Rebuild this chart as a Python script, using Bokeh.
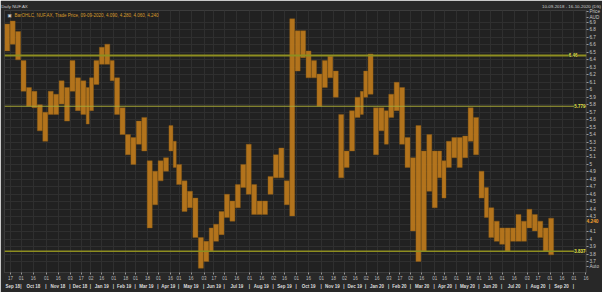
import numpy as np
import pandas as pd
from bokeh.plotting import figure
from bokeh.models import (Range1d, LinearAxis, FixedTicker, CustomJSTickFormatter,
                          Span, Label, ColumnDataSource)
from bokeh.embed import file_html
from bokeh.resources import INLINE

# ---------------- data ----------------
start_date = "2018-09-10"
end_date = "2020-10-16"
asx_holidays = ["2018-12-25", "2018-12-26", "2019-01-01", "2019-01-28", "2019-04-19",
                "2019-04-22", "2019-04-25", "2019-06-10", "2019-12-25", "2019-12-26",
                "2020-01-01", "2020-01-27", "2020-04-10", "2020-04-13", "2020-06-08"]

# weekly high / low of NUF.AX trade price, weeks from 10-09-2018
week_high = [6.88, 6.92, 6.78, 6.39, 6.03, 5.98, 5.80, 5.70, 5.98, 5.94,
             6.12, 6.03, 6.39, 6.16, 6.12, 6.03, 6.16, 6.39, 6.57, 6.61,
             6.39, 6.16, 5.76, 5.40, 5.36, 5.58, 5.63, 5.05, 4.91, 5.05,
             5.09, 5.52, 5.31, 5.00, 4.78, 4.64, 4.55, 4.02, 3.97, 4.15,
             4.20, 4.37, 4.60, 4.51, 4.73, 5.00, 5.27, 4.73, 4.51, 4.51,
             4.84, 5.13, 5.22, 4.78, 6.95, 6.79, 6.79, 6.52, 6.39, 6.21,
             6.39, 6.45, 6.25, 5.67, 5.18, 5.72, 5.90, 5.98, 6.25, 6.48,
             5.76, 5.76, 5.72, 5.94, 6.10, 6.03, 5.36, 5.09, 5.52, 5.18,
             5.40, 5.18, 5.18, 5.05, 5.31, 5.36, 5.36, 5.38, 5.76, 5.63,
             4.91, 4.69, 4.42, 4.24, 4.15, 4.15, 4.15, 4.33, 4.24, 4.40,
             4.33, 4.24, 4.15, 4.28]
week_low = [6.52, 6.61, 6.40, 5.98, 5.78, 5.76, 5.45, 5.31, 5.67, 5.67,
            5.81, 5.58, 5.98, 5.72, 5.67, 5.54, 5.72, 6.07, 6.34, 6.34,
            6.12, 5.67, 5.40, 5.13, 5.00, 5.27, 5.18, 4.15, 4.46, 4.78,
            4.91, 5.18, 4.96, 4.73, 4.37, 4.42, 4.02, 3.61, 3.70, 3.84,
            3.97, 4.06, 4.29, 4.24, 4.42, 4.69, 4.60, 4.33, 4.33, 4.33,
            4.60, 4.82, 4.82, 4.46, 4.31, 6.25, 6.43, 6.16, 6.16, 5.78,
            6.03, 6.16, 5.90, 4.82, 4.96, 5.18, 5.63, 5.67, 5.90, 5.94,
            5.13, 5.45, 5.27, 5.63, 5.72, 5.27, 4.96, 4.11, 3.70, 3.84,
            4.64, 4.42, 4.82, 4.55, 4.96, 5.09, 4.96, 5.09, 5.31, 5.13,
            4.55, 4.29, 4.02, 3.97, 3.93, 3.84, 3.97, 3.97, 3.97, 4.15,
            4.11, 4.02, 3.84, 3.79]

levels = [6.46, 5.779, 3.837]
level_texts = ["6.46", "5.779", "3.837"]
last_date = "09-09-2020"
last_ohlc = [4.090, 4.280, 4.060, 4.240]
price_ticks = [round(3.7 + 0.1 * i, 1) for i in range(33)]
chart_title = "Daily NUF.AX"
range_text = "10-09-2018 - 16-10-2020 (DS)"

# ---------------- derived positions ----------------
days = pd.bdate_range(start_date, end_date, freq="C", holidays=asx_holidays)
N = len(days)

week_starts = pd.date_range(start_date, periods=len(week_high), freq="7D")
xs, ws = [], []
for w0 in week_starts:
    ii = np.nonzero((days >= w0) & (days < w0 + pd.Timedelta(days=7)))[0]
    xs.append(float(ii.mean()))
    ws.append(len(ii) * 0.92)
src = ColumnDataSource(dict(x=xs, w=ws, top=week_high, bottom=week_low))

# day ticks (1st / 16th -> first trading day on/after)
day_pos, day_lab = [], []
months = pd.period_range(days[0], days[-1], freq="M")
for per in months:
    for anchor in (1, 16):
        d0 = pd.Timestamp(per.year, per.month, anchor)
        if d0 < pd.Timestamp(start_date):
            continue
        sel = np.nonzero((days >= d0) & (days.month == per.month) & (days.year == per.year))[0]
        if len(sel):
            day_pos.append(float(sel[0]))
            day_lab.append(f"{days[sel[0]].day:02d}")

# month labels + separators
bounds = []
for per in months:
    sel = np.nonzero((days.month == per.month) & (days.year == per.year))[0]
    bounds.append(float(sel[0]) - 0.5)
bounds[0] = -0.5
bounds.append(N - 0.5)
mon_pos, mon_lab = [], []
for j, per in enumerate(months[:-1]):
    mon_pos.append((bounds[j] + bounds[j + 1]) / 2)
    mon_lab.append(per.strftime("%b %y"))
    mon_pos.append(bounds[j + 1])
    mon_lab.append("|")

# ---------------- figure ----------------
FONT = "Liberation Sans"
W, H = 602, 292
FL, FR, FT, FB = 4, 586, 10, 272           # frame box in pixels
y0, y1 = 3.553, 7.061
px_y = (FB - FT) / (y1 - y0)
px_x = (FR - FL) / N


def xdata(px):
    return (px - FL) / px_x - 0.5


# right axis labels: price ticks + header "Price"/"AUD" + "Auto"
y_pos = [p_ for p_ in price_ticks if abs(p_ - last_ohlc[3]) > 0.05]
y_lab = [f"{v:g}" for v in y_pos]
y_pos += [y1 - 0.5 / px_y, y1 - 6.5 / px_y, y0 + 6.5 / px_y]
y_lab += ["Price", "AUD", "Auto"]

p = figure(width=W, height=H, output_backend="svg", toolbar_location=None,
           x_range=Range1d(-0.5, N - 0.5), y_range=Range1d(y0, y1),
           y_axis_location="right", min_border_left=FL, min_border_right=W - FR,
           min_border_top=FT, min_border_bottom=H - FB)
p.background_fill_color = "#212121"
p.border_fill_color = "#282828"
p.outline_line_color = "#3c3c3c"

fmt_code = """
for (let j = 0; j < pos.length; j++) { if (Math.abs(pos[j] - tick) < 1e-6) return labs[j]; }
return "";
"""


def quiet(ax):
    ax.major_tick_out = 0
    ax.major_tick_in = 0
    ax.minor_tick_out = 0
    ax.minor_tick_in = 0
    ax.major_tick_line_color = None
    ax.axis_line_color = None


p.yaxis.ticker = FixedTicker(ticks=y_pos)
p.ygrid.ticker = FixedTicker(ticks=price_ticks)
p.yaxis.formatter = CustomJSTickFormatter(args=dict(pos=y_pos, labs=y_lab), code=fmt_code)
p.yaxis.major_label_text_font_size = "4.6px"
p.yaxis.major_label_text_font = FONT
p.yaxis.major_label_text_color = "#c8c8c8"
p.yaxis.major_tick_out = 2
p.yaxis.major_tick_in = 0
p.yaxis.minor_tick_out = 0
p.yaxis.minor_tick_in = 0
p.yaxis.major_tick_line_color = "#9a9a9a"
p.yaxis.axis_line_color = "#3c3c3c"
p.yaxis.major_label_standoff = 1

# current price tag: a single-tick axis whose label overlaps the price axis
tag_text = f"{last_ohlc[3]:.3f}"
tag_axis = LinearAxis(ticker=FixedTicker(ticks=[last_ohlc[3]]),
                      formatter=CustomJSTickFormatter(args=dict(pos=[last_ohlc[3]], labs=[tag_text]),
                                                      code=fmt_code))
quiet(tag_axis)
tag_axis.major_label_text_font = FONT
tag_axis.major_label_text_font_size = "4.8px"
tag_axis.major_label_text_font_style = "bold"
tag_axis.major_label_text_color = "#f0a030"
tag_axis.major_label_standoff = -16
p.add_layout(tag_axis, "right")

xt = FixedTicker(ticks=day_pos)
p.xaxis.ticker = xt
p.xgrid.ticker = xt
p.xaxis.formatter = CustomJSTickFormatter(args=dict(pos=day_pos, labs=day_lab), code=fmt_code)
p.xaxis.major_label_text_font_size = "4.5px"
p.xaxis.major_label_text_font = FONT
p.xaxis.major_label_text_color = "#bdbdbd"
p.xaxis.major_tick_out = 2
p.xaxis.major_tick_in = 0
p.xaxis.minor_tick_out = 0
p.xaxis.minor_tick_in = 0
p.xaxis.major_tick_line_color = "#999999"
p.xaxis.axis_line_color = "#3c3c3c"
p.xaxis.major_label_standoff = 1

max_ = LinearAxis(ticker=FixedTicker(ticks=mon_pos),
                  formatter=CustomJSTickFormatter(args=dict(pos=mon_pos, labs=mon_lab), code=fmt_code))
quiet(max_)
max_.major_label_text_font_size = "4.5px"
max_.major_label_text_font = FONT
max_.major_label_text_font_style = "bold"
max_.major_label_text_color = "#dcdcdc"
max_.major_label_standoff = 1
p.add_layout(max_, "below")

# title bar: chart name (left) and date range (right) as labels of an axis above the frame
top_pos = [xdata(14), xdata(571)]
top_lab = [chart_title, range_text]
tax = LinearAxis(ticker=FixedTicker(ticks=top_pos),
                 formatter=CustomJSTickFormatter(args=dict(pos=top_pos, labs=top_lab), code=fmt_code))
quiet(tax)
tax.major_label_text_font = FONT
tax.major_label_text_font_size = "4.4px"
tax.major_label_text_color = "#d0d0d0"
tax.major_label_standoff = 2
p.add_layout(tax, "above")

for g in (p.xgrid, p.ygrid):
    g.grid_line_color = "#2f2f2f"
    g.grid_line_width = 1

# price bars
p.vbar(x="x", width="w", top="top", bottom="bottom", source=src,
       fill_color="#bf7b1c", fill_alpha=0.92, line_color="#8c5a14", line_width=0.4)

# horizontal levels
lvl_colors = ["#8e8e20", "#a5a535", "#8e8e20"]
lvl_widths = [2, 1, 1.6]
lvl_offsets = [-9, -1, -1]
for lv, tx, c, lw, xo in zip(levels, level_texts, lvl_colors, lvl_widths, lvl_offsets):
    p.add_layout(Span(location=lv, dimension="width", line_color=c, line_width=lw))
    p.add_layout(Label(x=N - 0.5, y=lv, x_offset=xo, text=tx, text_align="right",
                       text_baseline="middle", text_font=FONT, text_font_size="4.5px",
                       text_font_style="bold", text_color="#e2e24a",
                       background_fill_color="#212121"))

# legend line (inside the frame)
legend_txt = "BarOHLC, NUF.AX, Trade Price, " + last_date + ", " + ", ".join(f"{v:.3f}" for v in last_ohlc)
p.add_layout(Label(x=-0.5, y=y1, x_offset=3, y_offset=-2, text="\u25a3", text_align="left",
                   text_baseline="top", text_font="DejaVu Sans", text_font_size="4.5px",
                   text_color="#cfcfcf"))
p.add_layout(Label(x=-0.5, y=y1, x_offset=10, y_offset=-2, text=legend_txt, text_align="left",
                   text_baseline="top", text_font=FONT, text_font_size="4.5px",
                   text_color="#d89a2a"))

open("out.html", "w").write(file_html(p, INLINE))
